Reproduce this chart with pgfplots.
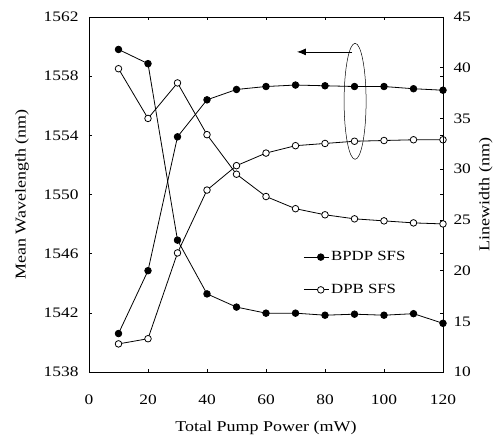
\documentclass[border=0pt]{standalone}
\usepackage{fontspec}
\setmainfont{Liberation Serif}[FakeStretch=1.2]
\usepackage{pgfplots}
\pgfplotsset{compat=1.18}
\usetikzlibrary{arrows.meta,calc}

% filled = BPDP SFS, open = DPB SFS
\pgfplotstableread{
x   wl      lw
10  1540.6  41.8
20  1544.85 40.4
30  1553.9  23.0
40  1556.4  17.7
50  1557.1  16.4
60  1557.3  15.8
70  1557.4  15.8
80  1557.35 15.6
90  1557.3  15.7
100 1557.3  15.6
110 1557.15 15.75
120 1557.05 14.8
}\bpdp
\pgfplotstableread{
x   wl      lw
10  1539.9  39.9
20  1540.25 35.0
30  1546.05 38.5
40  1550.3  33.4
50  1551.95 29.5
60  1552.8  27.3
70  1553.3  26.1
80  1553.45 25.5
90  1553.6  25.1
100 1553.65 24.9
110 1553.7  24.7
120 1553.7  24.6
}\dpb

\begin{document}
\begin{tikzpicture}
\pgfplotsset{
  base/.style={
    scale only axis, width=354pt, height=355pt,
    xmin=0, xmax=120,
    tick align=inside, major tick length=3pt,
    axis line style={line width=0.8pt},
    every tick/.style={black, line width=0.5pt},
    /pgf/number format/assume math mode=true,
    /pgf/number format/1000 sep={},
    tick label style={font=\fontsize{14.5}{16}\selectfont},
    label style={font=\fontsize{15}{17}\selectfont},
  },
  filled/.style={black, line width=0.8pt, mark=*, mark size=3.3pt, mark options={fill=black}},
  open/.style={black, line width=0.8pt, mark=*, mark size=3.3pt, mark options={fill=white}},
}
\begin{axis}[base, name=ax,
  ymin=1538, ymax=1562,
  xtick={0,20,...,120}, ytick={1538,1542,...,1562},
  xticklabel style={anchor=base, yshift=-32pt},
  yticklabel style={anchor=east, xshift=-7pt},
  xlabel={Total Pump Power (mW)},
  ylabel={Mean Wavelength (nm)},
  xlabel style={at={(axis description cs:0.5,-0.158)}, anchor=center},
  ylabel style={at={(axis description cs:-0.189,0.5)}, anchor=center, rotate=0},
  legend style={at={(0.605,0.345)}, anchor=north west, draw=none, fill=none,
                inner sep=0pt, row sep=18pt, font=\fontsize{14}{16}\selectfont},
  legend cell align=left,
  legend image code/.code={
    \draw[#1, mark=none] (0pt,0pt) -- (25pt,0pt);
    \draw[#1] plot coordinates {(17pt,0pt)};},
]
\addplot[filled] table[x=x, y=wl] {\bpdp};
\addlegendentry{BPDP SFS}
\addplot[open] table[x=x, y=wl] {\dpb};
\addlegendentry{DPB SFS}
\draw[line width=0.5pt] (axis cs:90.2,1556.3) ellipse [x radius=11pt, y radius=58pt];
\draw[line width=0.8pt, -{Latex[length=9pt, width=7pt]}] (axis cs:89.2,1559.64) -- (axis cs:70.5,1559.64);
\end{axis}
\begin{axis}[base,
  axis y line*=right, axis x line=none,
  ymin=10, ymax=45, ytick={10,15,...,45},
  yticklabel style={anchor=west, xshift=7pt},
  ylabel={Linewidth (nm)},
  ylabel style={at={(axis description cs:1.121,0.5)}, anchor=center, rotate=0},
]
\addplot[filled] table[x=x, y=lw] {\bpdp};
\addplot[open] table[x=x, y=lw] {\dpb};
\end{axis}
\pgfresetboundingbox
\path[use as bounding box] ($(ax.south west)+(-89pt,-69pt)$) rectangle ($(ax.north east)+(54pt,17pt)$);
\end{tikzpicture}
\end{document}
